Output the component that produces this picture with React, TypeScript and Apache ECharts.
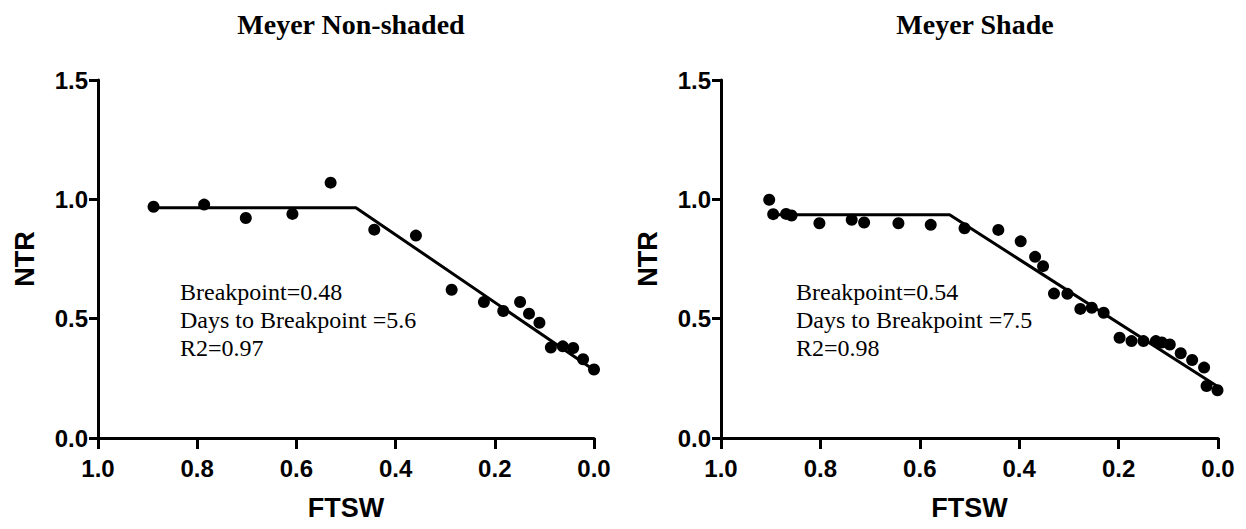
import React, { useEffect, useRef } from "react";
import * as echarts from "echarts";

const panelTitles = ["Meyer Non-shaded", "Meyer Shade"];
const xTicks = [1.0, 0.8, 0.6, 0.4, 0.2, 0.0];
const yTicks = [0.0, 0.5, 1.0, 1.5];

const nonShadedFTSW = [0.888, 0.786, 0.702, 0.608, 0.531, 0.443, 0.359, 0.287, 0.222, 0.183, 0.149, 0.131, 0.110, 0.087, 0.063, 0.042, 0.022, 0.0];
const nonShadedNTR = [0.969, 0.978, 0.922, 0.939, 1.070, 0.873, 0.848, 0.621, 0.570, 0.532, 0.570, 0.521, 0.483, 0.379, 0.384, 0.377, 0.330, 0.287];
const nonShadedFitX = [0.888, 0.48, 0.0];
const nonShadedFitY = [0.965, 0.965, 0.285];

const shadeFTSW = [0.903, 0.895, 0.869, 0.858, 0.802, 0.737, 0.712, 0.643, 0.578, 0.510, 0.442, 0.397, 0.368, 0.352, 0.330, 0.303, 0.277, 0.254, 0.230, 0.198, 0.174, 0.150, 0.125, 0.113, 0.097, 0.075, 0.052, 0.028, 0.023, 0.001];
const shadeNTR = [0.998, 0.938, 0.939, 0.932, 0.900, 0.914, 0.903, 0.900, 0.893, 0.879, 0.872, 0.824, 0.759, 0.720, 0.605, 0.604, 0.541, 0.546, 0.525, 0.420, 0.406, 0.406, 0.406, 0.400, 0.392, 0.355, 0.327, 0.295, 0.218, 0.200];
const shadeFitX = [0.90, 0.54, 0.0];
const shadeFitY = [0.935, 0.935, 0.215];

const annotations = [
  ["Breakpoint=0.48", "Days to Breakpoint =5.6", "R2=0.97"],
  ["Breakpoint=0.54", "Days to Breakpoint =7.5", "R2=0.98"],
];

const zip = (a: number[], b: number[]) => a.map((v, i) => [v, b[i]]);

export default function App() {
  const ref = useRef<HTMLDivElement>(null);
  useEffect(() => {
    if (!ref.current) return;
    const chart = echarts.init(ref.current, null, { renderer: "svg" });
    const grids = [
      { left: 98, top: 80, width: 496, height: 358 },
      { left: 721, top: 80, width: 497, height: 358 },
    ];
    const axisFont = { fontFamily: "Liberation Sans, Arial, sans-serif", fontWeight: "bold" as const, color: "#000" };
    const xAxes = grids.map((_, i) => ({
      type: "value" as const,
      gridIndex: i,
      inverse: true,
      min: 0,
      max: 1,
      interval: 0.2,
      name: "FTSW",
      nameLocation: "middle" as const,
      nameGap: 56,
      nameTextStyle: { ...axisFont, fontSize: 27 },
      axisLine: { show: true, onZero: false, lineStyle: { color: "#000", width: 3 } },
      axisTick: { show: true, length: 11, lineStyle: { color: "#000", width: 3 } },
      axisLabel: { ...axisFont, fontSize: 24, margin: 18, formatter: (v: number) => v.toFixed(1) },
      splitLine: { show: false },
    }));
    const yAxes = grids.map((_, i) => ({
      type: "value" as const,
      gridIndex: i,
      position: "left" as const,
      min: 0,
      max: 1.5,
      interval: 0.5,
      name: "NTR",
      nameLocation: "middle" as const,
      nameRotate: 90,
      nameGap: 60,
      nameTextStyle: { ...axisFont, fontSize: 27 },
      axisLine: { show: true, onZero: false, lineStyle: { color: "#000", width: 3 } },
      axisTick: { show: true, length: 9, lineStyle: { color: "#000", width: 3 } },
      axisLabel: { ...axisFont, fontSize: 24, margin: 10, formatter: (v: number) => v.toFixed(1) },
      splitLine: { show: false },
    }));
    const scatterStyle = { color: "#000", opacity: 1 };
    const series = [
      { type: "scatter", xAxisIndex: 0, yAxisIndex: 0, data: zip(nonShadedFTSW, nonShadedNTR), symbolSize: 12, itemStyle: scatterStyle, z: 3 },
      { type: "line", xAxisIndex: 0, yAxisIndex: 0, data: zip(nonShadedFitX, nonShadedFitY), showSymbol: false, lineStyle: { color: "#000", width: 3 }, z: 2 },
      { type: "scatter", xAxisIndex: 1, yAxisIndex: 1, data: zip(shadeFTSW, shadeNTR), symbolSize: 12, itemStyle: scatterStyle, z: 3 },
      { type: "line", xAxisIndex: 1, yAxisIndex: 1, data: zip(shadeFitX, shadeFitY), showSymbol: false, lineStyle: { color: "#000", width: 3 }, z: 2 },
    ];
    const annoX = [180, 796];
    const graphic = annotations.map((lines, i) => ({
      type: "text",
      left: annoX[i],
      top: 278,
      style: {
        text: lines.join("\n"),
        fontFamily: "Liberation Serif, Times New Roman, serif",
        fontSize: 24,
        lineHeight: 28,
        fill: "#000",
      },
    }));
    chart.setOption({
      animation: false,
      backgroundColor: "#fff",
      title: panelTitles.map((t, i) => ({
        text: t,
        left: i === 0 ? 346 : 970,
        top: 5,
        textAlign: "center",
        textStyle: { fontFamily: "Liberation Serif, Times New Roman, serif", fontWeight: "bold", fontSize: 28, color: "#000" },
      })),
      grid: grids,
      xAxis: xAxes,
      yAxis: yAxes,
      series,
      graphic,
    });
    return () => chart.dispose();
  }, []);
  return <div ref={ref} style={{ position: "absolute", left: 0, top: 0, width: 1246, height: 529 }} />;
}
